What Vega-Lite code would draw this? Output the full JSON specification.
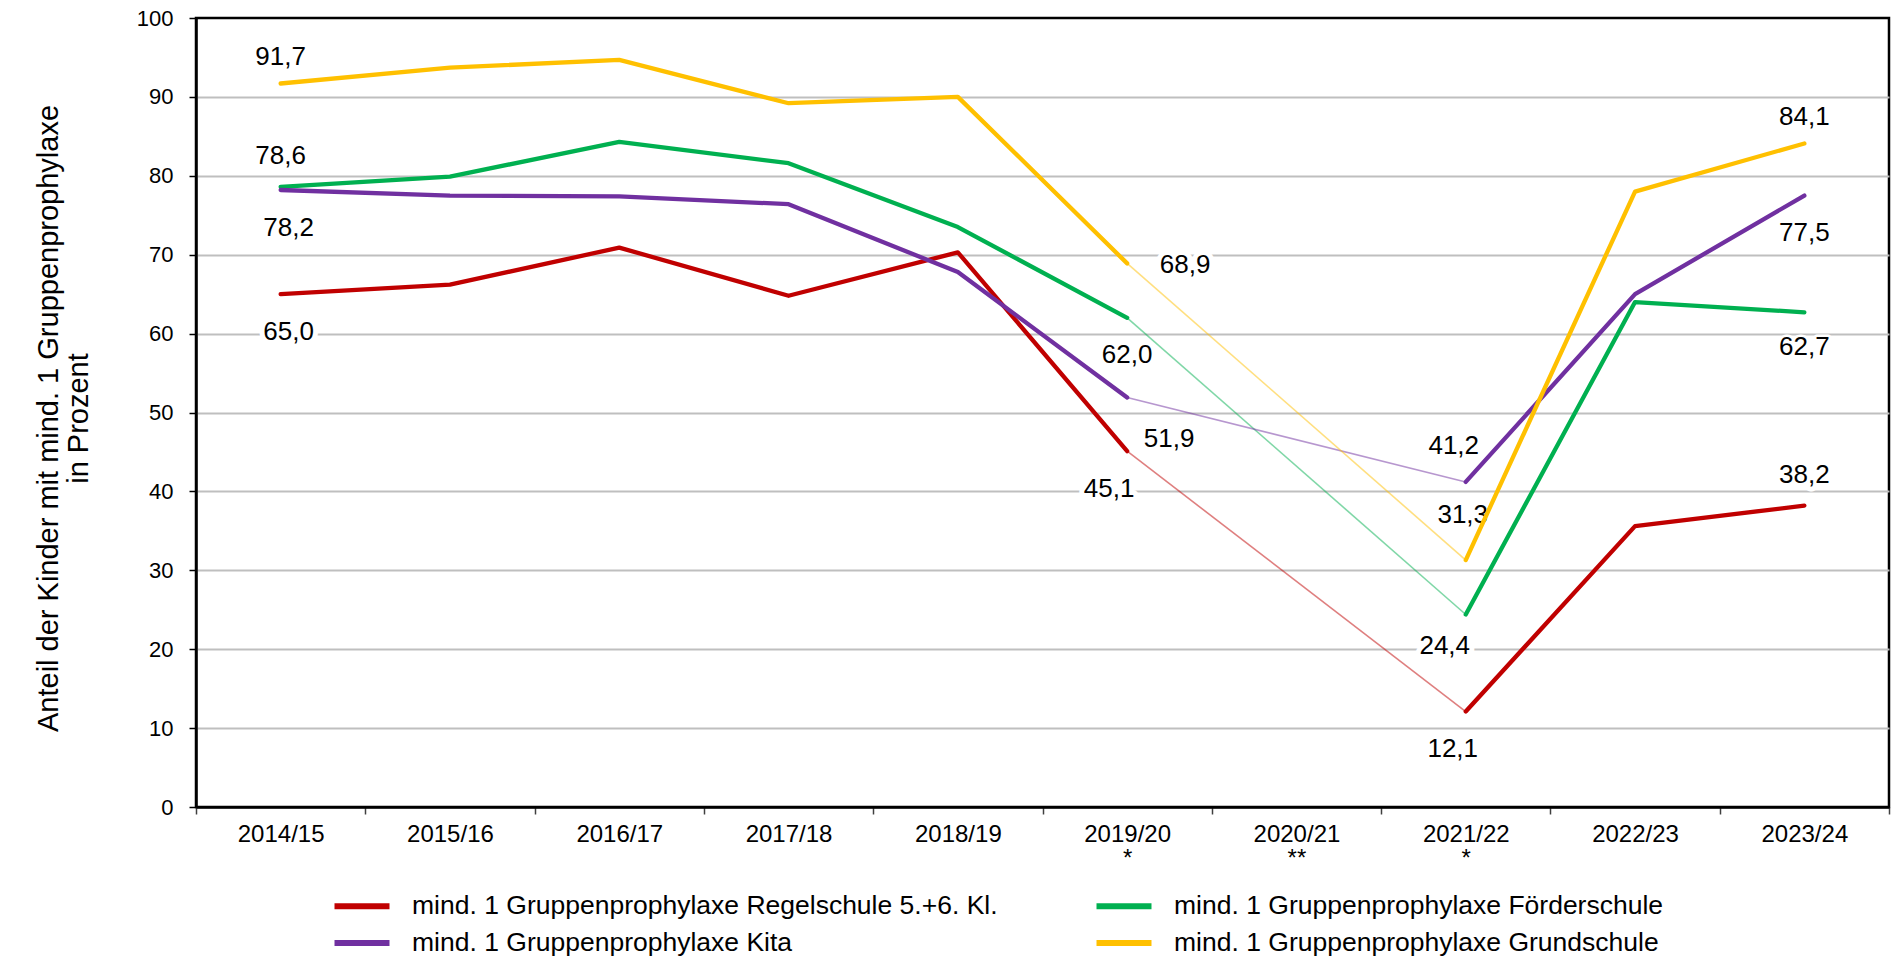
{
  "$schema": "https://vega.github.io/schema/vega-lite/v6.json",
  "width": 1693,
  "height": 789,
  "autosize": {"type": "none"},
  "padding": {"left": 196, "top": 18, "right": 2, "bottom": 153},
  "background": "white",
  "config": {
    "font": "Liberation Sans",
    "locale": {"number": {"decimal": ",", "thousands": ".", "grouping": [3], "currency": ["", " €"]}},
    "view": {"stroke": "black", "strokeWidth": 2.5},
    "legend": {
      "orient": "none",
      "legendX": 149,
      "legendY": 871,
      "columns": 2,
      "columnPadding": 86,
      "rowPadding": 6,
      "labelFont": "Liberation Sans",
      "labelFontSize": 26.5,
      "labelColor": "black",
      "labelLimit": 0,
      "labelOffset": 33,
      "symbolType": "M-2,0H2",
      "symbolSize": 756,
      "symbolStrokeWidth": 6,
      "symbolOpacity": 1
    }
  },
  "data": {
    "values": [
      {"jahr": "2014/15", "gruppe": "mind. 1 Gruppenprophylaxe Regelschule 5.+6. Kl.", "wert": 65.0},
      {"jahr": "2015/16", "gruppe": "mind. 1 Gruppenprophylaxe Regelschule 5.+6. Kl.", "wert": 66.2},
      {"jahr": "2016/17", "gruppe": "mind. 1 Gruppenprophylaxe Regelschule 5.+6. Kl.", "wert": 70.9},
      {"jahr": "2017/18", "gruppe": "mind. 1 Gruppenprophylaxe Regelschule 5.+6. Kl.", "wert": 64.8},
      {"jahr": "2018/19", "gruppe": "mind. 1 Gruppenprophylaxe Regelschule 5.+6. Kl.", "wert": 70.3},
      {"jahr": "2019/20", "gruppe": "mind. 1 Gruppenprophylaxe Regelschule 5.+6. Kl.", "wert": 45.1},
      {"jahr": "2021/22", "gruppe": "mind. 1 Gruppenprophylaxe Regelschule 5.+6. Kl.", "wert": 12.1},
      {"jahr": "2022/23", "gruppe": "mind. 1 Gruppenprophylaxe Regelschule 5.+6. Kl.", "wert": 35.6},
      {"jahr": "2023/24", "gruppe": "mind. 1 Gruppenprophylaxe Regelschule 5.+6. Kl.", "wert": 38.2},
      {"jahr": "2014/15", "gruppe": "mind. 1 Gruppenprophylaxe Förderschule", "wert": 78.6},
      {"jahr": "2015/16", "gruppe": "mind. 1 Gruppenprophylaxe Förderschule", "wert": 79.9},
      {"jahr": "2016/17", "gruppe": "mind. 1 Gruppenprophylaxe Förderschule", "wert": 84.3},
      {"jahr": "2017/18", "gruppe": "mind. 1 Gruppenprophylaxe Förderschule", "wert": 81.6},
      {"jahr": "2018/19", "gruppe": "mind. 1 Gruppenprophylaxe Förderschule", "wert": 73.5},
      {"jahr": "2019/20", "gruppe": "mind. 1 Gruppenprophylaxe Förderschule", "wert": 62.0},
      {"jahr": "2021/22", "gruppe": "mind. 1 Gruppenprophylaxe Förderschule", "wert": 24.4},
      {"jahr": "2022/23", "gruppe": "mind. 1 Gruppenprophylaxe Förderschule", "wert": 64.0},
      {"jahr": "2023/24", "gruppe": "mind. 1 Gruppenprophylaxe Förderschule", "wert": 62.7},
      {"jahr": "2014/15", "gruppe": "mind. 1 Gruppenprophylaxe Kita", "wert": 78.2},
      {"jahr": "2015/16", "gruppe": "mind. 1 Gruppenprophylaxe Kita", "wert": 77.5},
      {"jahr": "2016/17", "gruppe": "mind. 1 Gruppenprophylaxe Kita", "wert": 77.4},
      {"jahr": "2017/18", "gruppe": "mind. 1 Gruppenprophylaxe Kita", "wert": 76.4},
      {"jahr": "2018/19", "gruppe": "mind. 1 Gruppenprophylaxe Kita", "wert": 67.8},
      {"jahr": "2019/20", "gruppe": "mind. 1 Gruppenprophylaxe Kita", "wert": 51.9},
      {"jahr": "2021/22", "gruppe": "mind. 1 Gruppenprophylaxe Kita", "wert": 41.2},
      {"jahr": "2022/23", "gruppe": "mind. 1 Gruppenprophylaxe Kita", "wert": 65.0},
      {"jahr": "2023/24", "gruppe": "mind. 1 Gruppenprophylaxe Kita", "wert": 77.5},
      {"jahr": "2014/15", "gruppe": "mind. 1 Gruppenprophylaxe Grundschule", "wert": 91.7},
      {"jahr": "2015/16", "gruppe": "mind. 1 Gruppenprophylaxe Grundschule", "wert": 93.7},
      {"jahr": "2016/17", "gruppe": "mind. 1 Gruppenprophylaxe Grundschule", "wert": 94.7},
      {"jahr": "2017/18", "gruppe": "mind. 1 Gruppenprophylaxe Grundschule", "wert": 89.2},
      {"jahr": "2018/19", "gruppe": "mind. 1 Gruppenprophylaxe Grundschule", "wert": 90.0},
      {"jahr": "2019/20", "gruppe": "mind. 1 Gruppenprophylaxe Grundschule", "wert": 68.9},
      {"jahr": "2021/22", "gruppe": "mind. 1 Gruppenprophylaxe Grundschule", "wert": 31.3},
      {"jahr": "2022/23", "gruppe": "mind. 1 Gruppenprophylaxe Grundschule", "wert": 78.0},
      {"jahr": "2023/24", "gruppe": "mind. 1 Gruppenprophylaxe Grundschule", "wert": 84.1}
    ]
  },
  "encoding": {
    "x": {
      "field": "jahr",
      "type": "ordinal",
      "bandPosition": 0.5,
      "scale": {
        "type": "band",
        "domain": ["2014/15", "2015/16", "2016/17", "2017/18", "2018/19", "2019/20", "2020/21", "2021/22", "2022/23", "2023/24"],
        "paddingInner": 0,
        "paddingOuter": 0
      },
      "axis": {
        "title": null,
        "tickBand": "extent",
        "labelAngle": 0,
        "labelFont": "Liberation Sans",
        "labelFontSize": 24,
        "labelColor": "black",
        "labelPadding": 8,
        "labelLineHeight": 24,
        "labelExpr": "datum.value == '2019/20' || datum.value == '2021/22' ? [datum.value, '*'] : datum.value == '2020/21' ? [datum.value, '**'] : datum.value",
        "domainColor": "black",
        "domainWidth": 2.5,
        "tickColor": "#404040",
        "tickWidth": 1.5,
        "tickSize": 7,
        "grid": false
      }
    },
    "y": {
      "field": "wert",
      "type": "quantitative",
      "scale": {"domain": [0, 100], "nice": false},
      "axis": {
        "values": [0, 10, 20, 30, 40, 50, 60, 70, 80, 90, 100],
        "title": ["Anteil der Kinder mit mind. 1 Gruppenprophylaxe", "in Prozent"],
        "titleFont": "Liberation Sans",
        "titleFontSize": 29,
        "titleFontWeight": "normal",
        "titleColor": "black",
        "titleLineHeight": 30,
        "titleAngle": 270,
        "titleAlign": "center",
        "titleBaseline": "alphabetic",
        "titleX": -139,
        "titleY": 400,
        "labelFont": "Liberation Sans",
        "labelFontSize": 22,
        "labelColor": "black",
        "labelPadding": 16,
        "domainColor": "black",
        "domainWidth": 2.5,
        "tickColor": "black",
        "tickWidth": 1.5,
        "tickSize": 7,
        "grid": true,
        "gridColor": {"condition": {"test": "datum.value == 100 || datum.value == 0", "value": "transparent"}, "value": "#BFBFBF"},
        "gridWidth": 2
      }
    }
  },
  "layer": [
    {
      "transform": [{"filter": "(datum.jahr == '2014/15' || datum.jahr == '2023/24') && indexof(datum.gruppe, 'Grundschule') >= 0"}],
      "encoding": {"text": {"field": "wert", "type": "quantitative", "format": ".1f"}},
      "layer": [
        {"mark": {"type": "text", "dy": -26, "fontSize": 26, "font": "Liberation Sans", "baseline": "middle", "fill": "white", "stroke": "white", "strokeWidth": 10, "strokeJoin": "round"}},
        {"mark": {"type": "text", "dy": -26, "fontSize": 26, "font": "Liberation Sans", "baseline": "middle", "fill": "black"}}
      ]
    },
    {
      "transform": [{"filter": "(datum.jahr == '2014/15' && indexof(datum.gruppe, 'Förderschule') >= 0) || (datum.jahr == '2023/24' && indexof(datum.gruppe, 'Regelschule') >= 0)"}],
      "encoding": {"text": {"field": "wert", "type": "quantitative", "format": ".1f"}},
      "layer": [
        {"mark": {"type": "text", "dy": -31, "fontSize": 26, "font": "Liberation Sans", "baseline": "middle", "fill": "white", "stroke": "white", "strokeWidth": 10, "strokeJoin": "round"}},
        {"mark": {"type": "text", "dy": -31, "fontSize": 26, "font": "Liberation Sans", "baseline": "middle", "fill": "black"}}
      ]
    },
    {
      "transform": [{"filter": "datum.jahr == '2014/15' && (indexof(datum.gruppe, 'Kita') >= 0 || indexof(datum.gruppe, 'Regelschule') >= 0)"}],
      "encoding": {"text": {"field": "wert", "type": "quantitative", "format": ".1f"}},
      "layer": [
        {"mark": {"type": "text", "dx": 8, "dy": 38, "fontSize": 26, "font": "Liberation Sans", "baseline": "middle", "fill": "white", "stroke": "white", "strokeWidth": 10, "strokeJoin": "round"}},
        {"mark": {"type": "text", "dx": 8, "dy": 38, "fontSize": 26, "font": "Liberation Sans", "baseline": "middle", "fill": "black"}}
      ]
    },
    {
      "transform": [{"filter": "(datum.jahr == '2019/20' && indexof(datum.gruppe, 'Förderschule') >= 0) || (datum.jahr == '2023/24' && indexof(datum.gruppe, 'Kita') >= 0)"}],
      "encoding": {"text": {"field": "wert", "type": "quantitative", "format": ".1f"}},
      "layer": [
        {"mark": {"type": "text", "dy": 37, "fontSize": 26, "font": "Liberation Sans", "baseline": "middle", "fill": "white", "stroke": "white", "strokeWidth": 10, "strokeJoin": "round"}},
        {"mark": {"type": "text", "dy": 37, "fontSize": 26, "font": "Liberation Sans", "baseline": "middle", "fill": "black"}}
      ]
    },
    {
      "transform": [{"filter": "datum.jahr == '2023/24' && indexof(datum.gruppe, 'Förderschule') >= 0"}],
      "encoding": {"text": {"field": "wert", "type": "quantitative", "format": ".1f"}},
      "layer": [
        {"mark": {"type": "text", "dy": 35, "fontSize": 26, "font": "Liberation Sans", "baseline": "middle", "fill": "white", "stroke": "white", "strokeWidth": 5, "strokeJoin": "round"}},
        {"mark": {"type": "text", "dy": 35, "fontSize": 26, "font": "Liberation Sans", "baseline": "middle", "fill": "black"}}
      ]
    },
    {
      "transform": [{"filter": "datum.jahr == '2019/20' && indexof(datum.gruppe, 'Grundschule') >= 0"}],
      "encoding": {"text": {"field": "wert", "type": "quantitative", "format": ".1f"}},
      "layer": [
        {"mark": {"type": "text", "dx": 58, "dy": 2, "fontSize": 26, "font": "Liberation Sans", "baseline": "middle", "fill": "white", "stroke": "white", "strokeWidth": 10, "strokeJoin": "round"}},
        {"mark": {"type": "text", "dx": 58, "dy": 2, "fontSize": 26, "font": "Liberation Sans", "baseline": "middle", "fill": "black"}}
      ]
    },
    {
      "transform": [{"filter": "datum.jahr == '2019/20' && indexof(datum.gruppe, 'Kita') >= 0"}],
      "encoding": {"text": {"field": "wert", "type": "quantitative", "format": ".1f"}},
      "layer": [
        {"mark": {"type": "text", "dx": 42, "dy": 41, "fontSize": 26, "font": "Liberation Sans", "baseline": "middle", "fill": "white", "stroke": "white", "strokeWidth": 10, "strokeJoin": "round"}},
        {"mark": {"type": "text", "dx": 42, "dy": 41, "fontSize": 26, "font": "Liberation Sans", "baseline": "middle", "fill": "black"}}
      ]
    },
    {
      "transform": [{"filter": "datum.jahr == '2019/20' && indexof(datum.gruppe, 'Regelschule') >= 0"}],
      "encoding": {"text": {"field": "wert", "type": "quantitative", "format": ".1f"}},
      "layer": [
        {"mark": {"type": "text", "dx": -18, "dy": 38, "fontSize": 26, "font": "Liberation Sans", "baseline": "middle", "fill": "white", "stroke": "white", "strokeWidth": 10, "strokeJoin": "round"}},
        {"mark": {"type": "text", "dx": -18, "dy": 38, "fontSize": 26, "font": "Liberation Sans", "baseline": "middle", "fill": "black"}}
      ]
    },
    {
      "transform": [{"filter": "datum.jahr == '2021/22' && indexof(datum.gruppe, 'Kita') >= 0"}],
      "encoding": {"text": {"field": "wert", "type": "quantitative", "format": ".1f"}},
      "layer": [
        {"mark": {"type": "text", "dx": -12, "dy": -36, "fontSize": 26, "font": "Liberation Sans", "baseline": "middle", "fill": "white", "stroke": "white", "strokeWidth": 10, "strokeJoin": "round"}},
        {"mark": {"type": "text", "dx": -12, "dy": -36, "fontSize": 26, "font": "Liberation Sans", "baseline": "middle", "fill": "black"}}
      ]
    },
    {
      "transform": [{"filter": "datum.jahr == '2021/22' && indexof(datum.gruppe, 'Grundschule') >= 0"}],
      "encoding": {"text": {"field": "wert", "type": "quantitative", "format": ".1f"}},
      "layer": [
        {"mark": {"type": "text", "dx": -3, "dy": -45, "fontSize": 26, "font": "Liberation Sans", "baseline": "middle", "fill": "white", "stroke": "white", "strokeWidth": 10, "strokeJoin": "round"}},
        {"mark": {"type": "text", "dx": -3, "dy": -45, "fontSize": 26, "font": "Liberation Sans", "baseline": "middle", "fill": "black"}}
      ]
    },
    {
      "transform": [{"filter": "datum.jahr == '2021/22' && indexof(datum.gruppe, 'Förderschule') >= 0"}],
      "encoding": {"text": {"field": "wert", "type": "quantitative", "format": ".1f"}},
      "layer": [
        {"mark": {"type": "text", "dx": -21, "dy": 32, "fontSize": 26, "font": "Liberation Sans", "baseline": "middle", "fill": "white", "stroke": "white", "strokeWidth": 10, "strokeJoin": "round"}},
        {"mark": {"type": "text", "dx": -21, "dy": 32, "fontSize": 26, "font": "Liberation Sans", "baseline": "middle", "fill": "black"}}
      ]
    },
    {
      "transform": [{"filter": "datum.jahr == '2021/22' && indexof(datum.gruppe, 'Regelschule') >= 0"}],
      "encoding": {"text": {"field": "wert", "type": "quantitative", "format": ".1f"}},
      "layer": [
        {"mark": {"type": "text", "dx": -13, "dy": 37, "fontSize": 26, "font": "Liberation Sans", "baseline": "middle", "fill": "white", "stroke": "white", "strokeWidth": 10, "strokeJoin": "round"}},
        {"mark": {"type": "text", "dx": -13, "dy": 37, "fontSize": 26, "font": "Liberation Sans", "baseline": "middle", "fill": "black"}}
      ]
    },
    {
      "transform": [{"filter": {"field": "jahr", "oneOf": ["2019/20", "2021/22"]}}],
      "mark": {"type": "line", "strokeWidth": 1.6, "opacity": 0.5},
      "encoding": {
        "color": {
          "field": "gruppe",
          "type": "nominal",
          "scale": {
            "domain": ["mind. 1 Gruppenprophylaxe Regelschule 5.+6. Kl.", "mind. 1 Gruppenprophylaxe Kita", "mind. 1 Gruppenprophylaxe Förderschule", "mind. 1 Gruppenprophylaxe Grundschule"],
            "range": ["#C00000", "#7030A0", "#00B050", "#FFC000"]
          },
          "legend": {"title": null}
        }
      }
    },
    {
      "transform": [{"filter": {"field": "jahr", "oneOf": ["2014/15", "2015/16", "2016/17", "2017/18", "2018/19", "2019/20"]}}],
      "mark": {"type": "line", "strokeWidth": 4.3, "strokeJoin": "round", "strokeCap": "round"},
      "encoding": {
        "color": {"field": "gruppe", "type": "nominal", "legend": {"title": null}}
      }
    },
    {
      "transform": [{"filter": {"field": "jahr", "oneOf": ["2021/22", "2022/23", "2023/24"]}}],
      "mark": {"type": "line", "strokeWidth": 4.3, "strokeJoin": "round", "strokeCap": "round"},
      "encoding": {
        "color": {"field": "gruppe", "type": "nominal", "legend": {"title": null}}
      }
    }
  ]
}
